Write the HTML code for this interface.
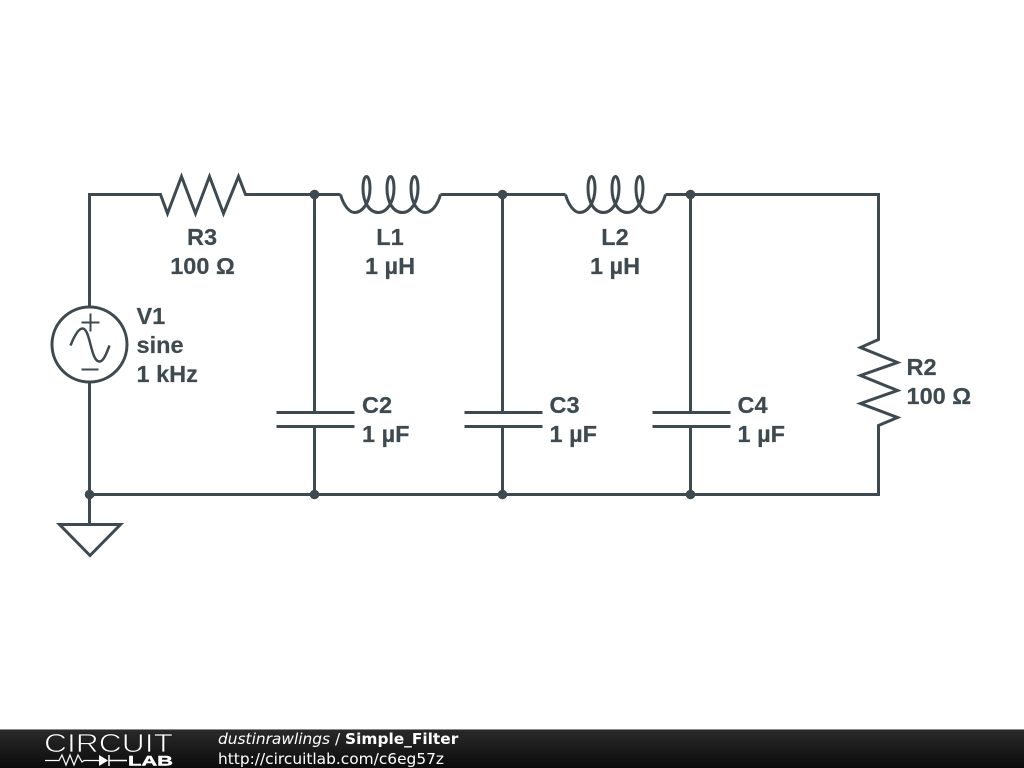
<!DOCTYPE html>
<html>
<head>
<meta charset="utf-8">
<style>
html,body{margin:0;padding:0;background:#fff;width:1024px;height:768px;overflow:hidden}
svg{display:block}
.w{fill:none;stroke:#3f4a50;stroke-width:3;stroke-linejoin:miter}
.l{font-family:"Liberation Sans",sans-serif;font-weight:bold;font-size:23.5px;fill:#3f4a50;stroke:#3f4a50;stroke-width:0.2}
.f{font-family:"DejaVu Sans",sans-serif;font-size:15.4px;fill:#fff}
</style>
</head>
<body>
<svg width="1024" height="768" viewBox="0 0 1024 768" xmlns="http://www.w3.org/2000/svg">
<defs>
<linearGradient id="g" x1="0" y1="0" x2="0" y2="1">
<stop offset="0" stop-color="#2a2a2a"/>
<stop offset="1" stop-color="#0c0c0c"/>
</linearGradient>
</defs>
<rect width="1024" height="768" fill="#fff"/>

<g transform="translate(0.5 0.5)">
<!-- Wires -->
<path class="w" d="M89 306V194H160L167 213L181 176L195 213L209 176L223 213L238 176L245 194H340"/>
<path class="w" d="M440 194H565"/>
<path class="w" d="M665 194H878V339L860 347L897 362L860 375L897 390L860 403L897 417L878 425V494H89"/>
<path class="w" d="M89 382V524"/>
<path class="w" d="M314 194V412M314 426V494"/>
<path class="w" d="M502 194V412M502 426V494"/>
<path class="w" d="M690 194V412M690 426V494"/>

<!-- Inductors -->
<path class="w" d="M340 194C343 205 349 212 354 212C362 212 369.500 202 369.500 188C369.500 181 368 176 366 176C364 176 362.500 181 362.500 188C362.500 202 369 212 378 212C386 212 393.500 202 393.500 188C393.500 181 392 176 390 176C388 176 386.500 181 386.500 188C386.500 202 393 212 402 212C410 212 417.500 202 417.500 188C417.500 181 416 176 414 176C412 176 410.500 181 410.500 188C410.500 202 417 212 425 212C431 212 437 205 440 194"/>
<path class="w" transform="translate(225 0)" d="M340 194C343 205 349 212 354 212C362 212 369.500 202 369.500 188C369.500 181 368 176 366 176C364 176 362.500 181 362.500 188C362.500 202 369 212 378 212C386 212 393.500 202 393.500 188C393.500 181 392 176 390 176C388 176 386.500 181 386.500 188C386.500 202 393 212 402 212C410 212 417.500 202 417.500 188C417.500 181 416 176 414 176C412 176 410.500 181 410.500 188C410.500 202 417 212 425 212C431 212 437 205 440 194"/>

<!-- Capacitors -->
<path class="w" d="M276 412H354M276 426H354"/>
<path class="w" d="M464 412H542M464 426H542"/>
<path class="w" d="M652 412H730M652 426H730"/>

<!-- Source -->
<circle class="w" cx="89" cy="344" r="37.500"/>
<path class="w" style="stroke-width:2" d="M81 322H99M90 313V331M81 369H98"/>
<path class="w" style="stroke-width:2.500" d="M70 345C74 335 78 328 82 328C90 328 90 361 99 361C103 361 106 353 109 345"/>

<!-- Ground -->
<path class="w" d="M59 524H120L89.500 555Z"/>

<!-- Junctions -->
<g fill="#3f4a50">
<circle cx="314" cy="194" r="4.800"/>
<circle cx="502" cy="194" r="4.800"/>
<circle cx="690" cy="194" r="4.800"/>
<circle cx="89" cy="494" r="4.800"/>
<circle cx="314" cy="494" r="4.800"/>
<circle cx="502" cy="494" r="4.800"/>
<circle cx="690" cy="494" r="4.800"/>
</g>
</g>

<!-- Labels -->
<g class="l">
<text x="202" y="245" text-anchor="middle">R3</text>
<text x="202.500" y="274" text-anchor="middle">100 Ω</text>
<text x="390" y="245" text-anchor="middle">L1</text>
<text x="390" y="274" text-anchor="middle">1 µH</text>
<text x="615" y="245" text-anchor="middle">L2</text>
<text x="615" y="274" text-anchor="middle">1 µH</text>
<text x="136.500" y="324">V1</text>
<text x="136.500" y="353">sine</text>
<text x="136.500" y="382">1 kHz</text>
<text x="362" y="413">C2</text>
<text x="362" y="442">1 µF</text>
<text x="549.500" y="413">C3</text>
<text x="549.500" y="442">1 µF</text>
<text x="737.500" y="413">C4</text>
<text x="737.500" y="442">1 µF</text>
<text x="906.500" y="375">R2</text>
<text x="906.500" y="404">100 Ω</text>
</g>

<!-- Footer -->
<rect x="0" y="729" width="1024" height="39" fill="url(#g)"/>
<rect x="0" y="729" width="1024" height="1" fill="#8c8c8c"/>
<text x="44" y="752" font-family="Liberation Sans, sans-serif" font-size="26" fill="#fff" stroke="#1c1c1c" stroke-width="0.8" textLength="129" lengthAdjust="spacingAndGlyphs">CIRCUIT</text>
<path d="M45 760.500H59L62 755L66 765L70 755L74 765L78 755L82 762L84 760.500H99" fill="none" stroke="#fff" stroke-width="1.200"/>
<path d="M99 755L108 760.500L99 766Z" fill="#fff"/>
<path d="M109 755V766M109 760.500H127" fill="none" stroke="#fff" stroke-width="1.500"/>
<text x="128" y="765.500" font-family="Liberation Sans, sans-serif" font-size="14" font-weight="bold" fill="#fff" stroke="#fff" stroke-width="0.4" textLength="45" lengthAdjust="spacingAndGlyphs">LAB</text>
<text class="f" x="218" y="744"><tspan font-style="italic">dustinrawlings</tspan> / <tspan font-weight="bold">Simple_Filter</tspan></text>
<text class="f" x="218" y="764">http://circuitlab.com/c6eg57z</text>
</svg>
</body>
</html>
